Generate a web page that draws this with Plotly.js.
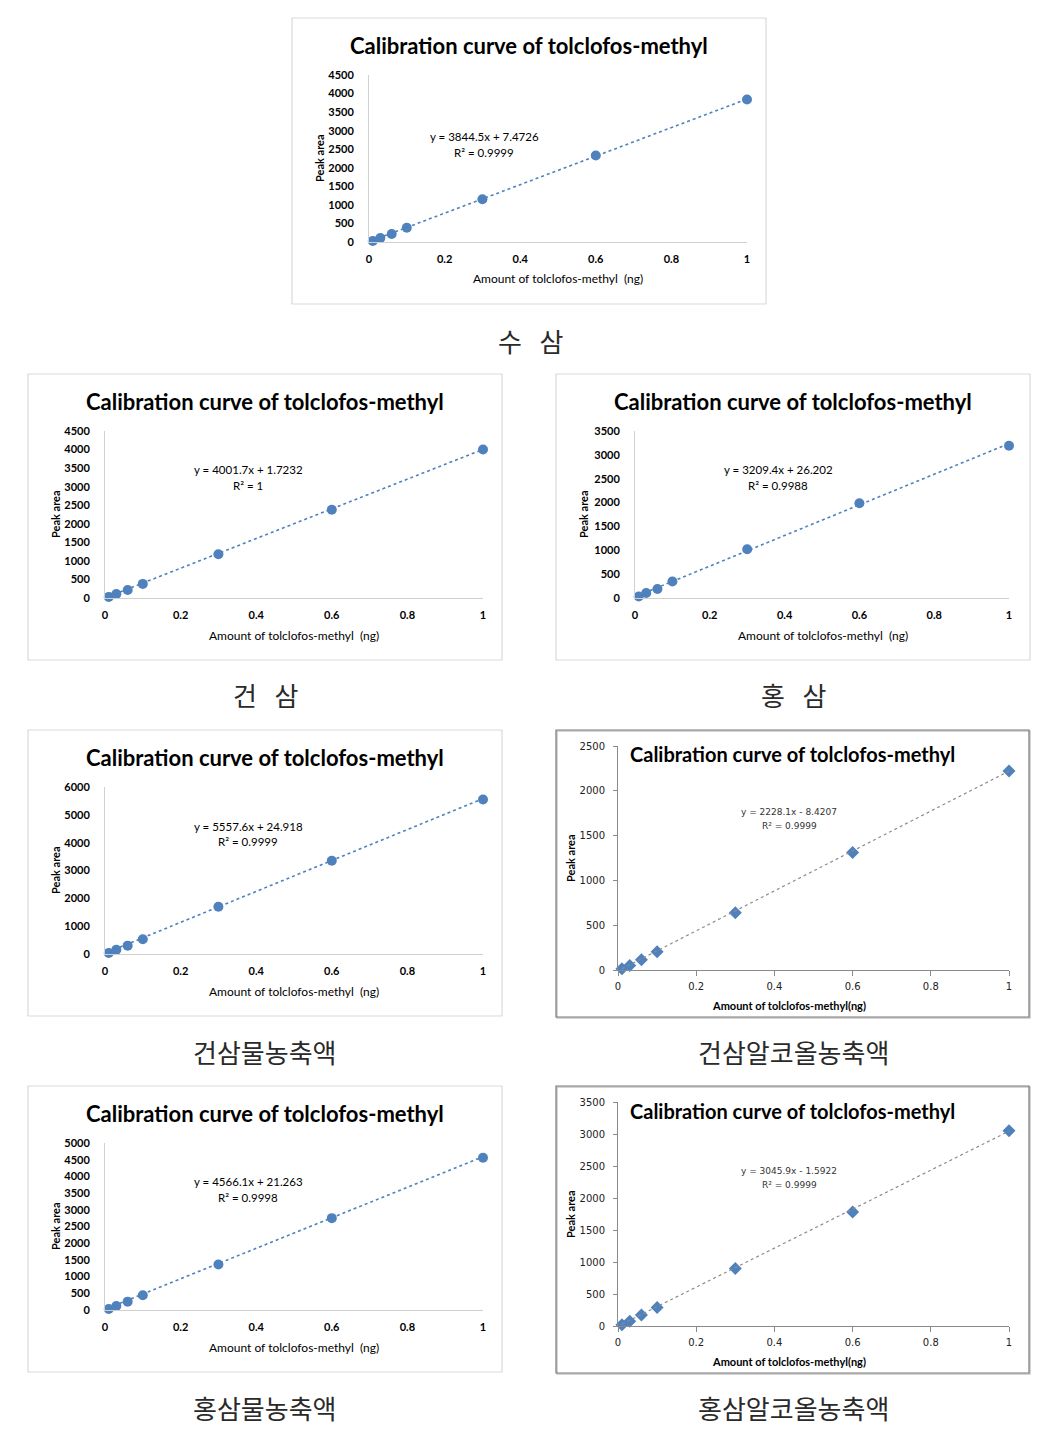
<!DOCTYPE html>
<html>
<head>
<meta charset="utf-8">
<script src="https://cdn.plot.ly/plotly-3.0.1.min.js"></script>
<style>html,body{margin:0;padding:0;background:#fff;}#chart{width:1052px;height:1433px;}</style>
</head>
<body>
<div id="chart"></div>
<script>
// ---- data ----
const xAmount = [0.01, 0.03, 0.06, 0.1, 0.3, 0.6, 1];
const areaSusam = [30, 105, 215, 385, 1150, 2330, 3840];
const areaGeonsam = [30, 110, 215, 380, 1180, 2380, 4000];
const areaHongsam = [30, 105, 190, 345, 1020, 1985, 3190];
const areaGeonWater = [40, 150, 300, 530, 1700, 3350, 5550];
const areaGeonAlcohol = [15, 50, 115, 205, 640, 1310, 2220];
const areaHongWater = [30, 120, 250, 440, 1360, 2750, 4560];
const areaHongAlcohol = [20, 75, 170, 290, 900, 1780, 3050];

const captions = ['수\u00a0\u00a0\u00a0삼', '건\u00a0\u00a0\u00a0삼', '홍\u00a0\u00a0\u00a0삼', '건삼물농축액', '건삼알코올농축액', '홍삼물농축액', '홍삼알코올농축액'];
const slopes = [3844.5, 4001.7, 3209.4, 5557.6, 2228.1, 4566.1, 3045.9];
const intercepts = [7.4726, 1.7232, 26.202, 24.918, -8.4207, 21.263, -1.5922];
const r2Values = ['0.9999', '1', '0.9988', '0.9999', '0.9999', '0.9998', '0.9999'];
const yMaxes = [4500, 4500, 3500, 6000, 2500, 5000, 3500];
const yDticks = [500, 500, 500, 1000, 500, 500, 500];
const chartTitle = 'Calibration curve of tolclofos-methyl';
const xTitleA = 'Amount of tolclofos-methyl  (ng)';
const xTitleB = 'Amount of tolclofos-methyl(ng)';
const yTitle = 'Peak area';
const xTickVals = [0, 0.2, 0.4, 0.6, 0.8, 1];
const xTickText = ['0', '0.2', '0.4', '0.6', '0.8', '1'];

const series = [areaSusam, areaGeonsam, areaHongsam, areaGeonWater, areaGeonAlcohol, areaHongWater, areaHongAlcohol];

// ---- layout geometry (page pixels) ----
const W = 1052, H = 1433;
const panels = [
  {box:[292,18,766,304], plot:[369,747,75,242], st:'A', title:[529,45], eq:[484,136,152], xt:[558,279], yt:[319,158], cap:[530,340]},
  {box:[28,374,502,660], plot:[105,483,431,598], st:'A', title:[265,401], eq:[248,470,485], xt:[294,635], yt:[55,514], cap:[265,695]},
  {box:[556,374,1030,660], plot:[635,1009,431,598], st:'A', title:[793,401], eq:[778,470,485], xt:[823,635], yt:[583,514], cap:[793,695]},
  {box:[28,730,502,1016], plot:[105,483,787,954], st:'A', title:[265,757], eq:[248,826,841], xt:[294,991], yt:[55,870], cap:[265,1051]},
  {box:[556,730,1029,1017], plot:[618,1009,746,970], st:'B', title:[792,754], eq:[789,812,826], xt:[789,1005], yt:[570,858], cap:[793,1051]},
  {box:[28,1086,502,1372], plot:[105,483,1143,1310], st:'A', title:[265,1113], eq:[248,1181,1197], xt:[294,1347], yt:[55,1226], cap:[265,1407]},
  {box:[556,1086,1029,1373], plot:[618,1009,1102,1326], st:'B', title:[792,1111], eq:[789,1171,1185], xt:[789,1361], yt:[570,1214], cap:[793,1407]}
];
const px = v => v / W;
const py = v => 1 - v / H;
const blue = '#4F81BD';
const fA = 'Lato, "Open Sans", sans-serif';
const fB = '"DejaVu Sans", Verdana, sans-serif';
const fK = '"Noto Sans CJK KR", sans-serif';

const traces = [];
const shapes = [];
const annotations = [];
const layout = {
  width: W, height: H, margin:{l:0,r:0,t:0,b:0},
  paper_bgcolor:'#ffffff', plot_bgcolor:'rgba(0,0,0,0)', showlegend:false,
  shapes: shapes, annotations: annotations
};

panels.forEach((p, i) => {
  const n = i + 1;
  const xa = n === 1 ? 'x' : 'x' + n;
  const ya = n === 1 ? 'y' : 'y' + n;
  const isA = p.st === 'A';
  const ys = series[i];
  // data points
  traces.push({
    type:'scatter', mode:'markers', x: xAmount, y: ys, xaxis: xa, yaxis: ya,
    cliponaxis:false,
    marker: isA ? {symbol:'circle', size:10, color:blue} : {symbol:'diamond', size:10, color:blue}
  });
  // linear trendline from the displayed equation
  const x0 = xAmount[0], x1 = xAmount[xAmount.length-1];
  traces.push({
    type:'scatter', mode:'lines', x:[x0, x1], y:[slopes[i]*x0 + intercepts[i], slopes[i]*x1 + intercepts[i]],
    xaxis: xa, yaxis: ya, cliponaxis:false,
    line: isA ? {color:blue, width:1.6, dash:'dot'} : {color:'#8c8c8c', width:1.2, dash:'dot'}
  });
  const axColor = isA ? '#d0d0d0' : '#8a8a8a';
  const tickFont = isA ? {family:fA, size:11, color:'#000', weight:'bold'} : {family:fB, size:10, color:'#222'};
  layout['xaxis' + (n===1?'':n)] = {
    domain:[px(p.plot[0]), px(p.plot[1])], anchor: ya, range:[0,1], fixedrange:true,
    showgrid:false, zeroline:false, showline:true, linecolor:axColor, linewidth:1,
    tickvals:xTickVals, ticktext:xTickText, tickfont:tickFont,
    ticks: isA ? '' : 'outside', ticklen: 5, tickcolor: axColor,
    ticklabelstandoff: isA ? 7 : 2
  };
  layout['yaxis' + (n===1?'':n)] = {
    domain:[py(p.plot[3]), py(p.plot[2])], anchor: xa, range:[0, yMaxes[i]], fixedrange:true,
    showgrid:false, zeroline:false, showline:true, linecolor:axColor, linewidth:1,
    dtick:yDticks[i], tick0:0, tickfont:tickFont, tickformat:'d',
    ticks: isA ? '' : 'outside', ticklen: 4, tickcolor: axColor,
    ticklabelstandoff: isA ? 12 : 6
  };
  // panel border
  if (isA) {
    shapes.push({type:'rect', xref:'paper', yref:'paper', x0:px(p.box[0]), x1:px(p.box[2]), y0:py(p.box[3]), y1:py(p.box[1]),
      line:{color:'#d9d9d9', width:1.2}, fillcolor:'rgba(0,0,0,0)', layer:'below'});
  } else {
    shapes.push({type:'rect', xref:'paper', yref:'paper', x0:px(p.box[0]+1), x1:px(p.box[2]+1), y0:py(p.box[3]+1), y1:py(p.box[1]+1),
      line:{color:'#c8c8c8', width:1.5}, fillcolor:'rgba(0,0,0,0)', layer:'below'});
    shapes.push({type:'rect', xref:'paper', yref:'paper', x0:px(p.box[0]), x1:px(p.box[2]), y0:py(p.box[3]), y1:py(p.box[1]),
      line:{color:'#7a7a7a', width:1.2}, fillcolor:'rgba(0,0,0,0)', layer:'below'});
  }
  const ann = (x, y, text, font, extra) => annotations.push(Object.assign({
    xref:'paper', yref:'paper', x:px(x), y:py(y), text:text, showarrow:false,
    xanchor:'center', yanchor:'middle', font:font
  }, extra || {}));
  // title
  ann(p.title[0], p.title[1], chartTitle, {family:fA, size: isA ? 22 : 20, color:'#000', weight:'bold'});
  // equation
  const sign = intercepts[i] < 0 ? ' - ' : ' + ';
  const eq = 'y = ' + slopes[i] + 'x' + sign + Math.abs(intercepts[i]);
  const eqFont = isA ? {family:fA, size:11.5, color:'#000'} : {family:fB, size:9, color:'#333'};
  ann(p.eq[0], p.eq[1], eq, eqFont);
  ann(p.eq[0], p.eq[2], 'R² = ' + r2Values[i], eqFont);
  // axis titles
  ann(p.xt[0], p.xt[1], isA ? xTitleA : xTitleB, isA ? {family:fA, size:12, color:'#000'} : {family:fA, size:11, color:'#000', weight:'bold'});
  ann(p.yt[0], p.yt[1], yTitle, {family:fA, size:11, color:'#000', weight:'bold'}, {textangle:-90});
  // caption
  ann(p.cap[0], p.cap[1], captions[i], {family:fK, size:26, color:'#2a2a2a'});
});

Plotly.newPlot('chart', traces, layout, {staticPlot:true, displayModeBar:false});
</script>
</body>
</html>
